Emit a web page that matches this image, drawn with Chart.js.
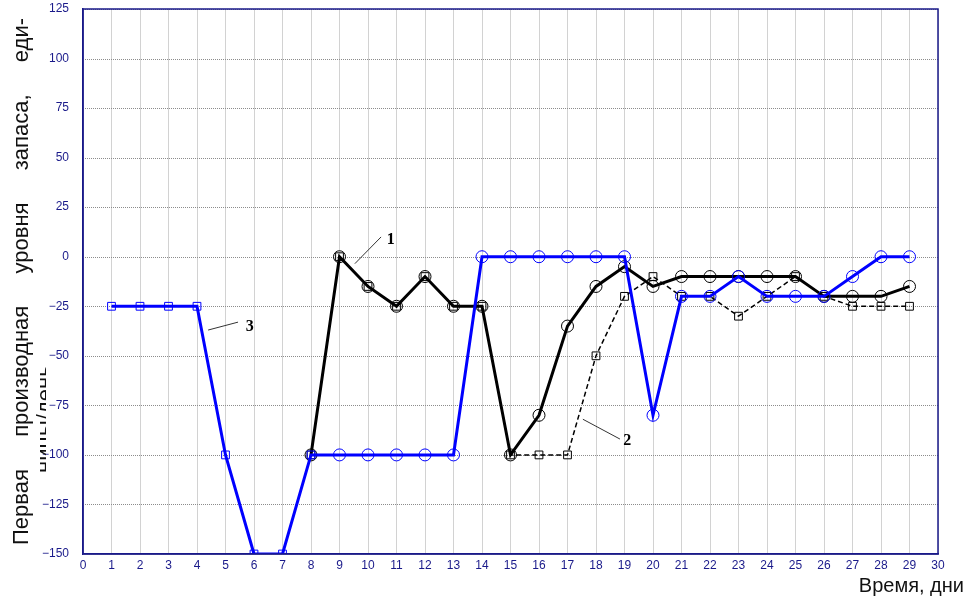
<!DOCTYPE html>
<html>
<head>
<meta charset="utf-8">
<script src="https://cdn.jsdelivr.net/npm/chart.js@4/dist/chart.umd.min.js"></script>
<style>
  html, body { margin: 0; padding: 0; background: #fff; }
  #wrap { width: 971px; height: 600px; }
</style>
</head>
<body>
<div id="wrap"><canvas id="myChart" width="971" height="600"></canvas></div>
<script>
// days 1..29
const days = [1,2,3,4,5,6,7,8,9,10,11,12,13,14,15,16,17,18,19,20,21,22,23,24,25,26,27,28,29];

// curve 3 (blue)
const curve3 = [-25,-25,-25,-25,-100,-150,-150,-100,-100,-100,-100,-100,-100,0,0,0,0,0,0,-80,-20,-20,-10,-20,-20,-20,-10,0,0];
// curve 1 (black solid), starts on day 8
const curve1 = [null,null,null,null,null,null,null,-100,0,-15,-25,-10,-25,-25,-100,-80,-35,-15,-5,-15,-10,-10,-10,-10,-10,-20,-20,-20,-15];
// curve 2 (black dashed), same as curve 1 until day 14
const curve2 = [null,null,null,null,null,null,null,-100,0,-15,-25,-10,-25,-25,-100,-100,-100,-50,-20,-10,-20,-20,-30,-20,-10,-20,-25,-25,-25];

const yTicks = [-150,-125,-100,-75,-50,-25,0,25,50,75,100,125];
const xTicks = [0,1,2,3,4,5,6,7,8,9,10,11,12,13,14,15,16,17,18,19,20,21,22,23,24,25,26,27,28,29,30];

const yTitle = ['Первая', 'производная', 'уровня', 'запаса,', 'еди-'];
const yTitle2 = 'ницы/день';
const xTitle = 'Время, дни';

// curve numbers with leader lines, in data units: [label, x1, y1, x2, y2, labelX, labelY]
const callouts = [
  ['1', 9.54, -3.5, 10.46, 10, 10.8, 8.5],
  ['2', 17.54, -82, 18.84, -92, 19.1, -93],
  ['3', 4.39, -37, 5.44, -33, 5.85, -35.3],
];

const toPoints = arr => days.map((d, i) => ({ x: d, y: arr[i] })).filter(p => p.y !== null);

const navy = '#1a1a8a';

const extras = {
  id: 'extras',
  beforeDatasetsDraw(c) {
    // dotted horizontal grid
    const ctx = c.ctx;
    const a = c.chartArea;
    const ys = c.scales.y;
    ctx.save();
    ctx.strokeStyle = '#8c8c8c';
    ctx.lineWidth = 1;
    ctx.setLineDash([1, 1]);
    yTicks.forEach(v => {
      const y = Math.round(ys.getPixelForValue(v)) + 0.5;
      ctx.beginPath();
      ctx.moveTo(a.left, y);
      ctx.lineTo(a.right, y);
      ctx.stroke();
    });
    ctx.restore();
  },
  afterDraw(c) {
    const ctx = c.ctx;
    const a = c.chartArea;
    const xs = c.scales.x, ys = c.scales.y;
    ctx.save();
    // frame
    ctx.strokeStyle = navy;
    ctx.lineWidth = 1.5;
    ctx.strokeRect(a.left, a.top, a.right - a.left, a.bottom - a.top);

    // callouts
    ctx.strokeStyle = '#333';
    ctx.lineWidth = 1;
    ctx.fillStyle = '#000';
    ctx.font = 'bold 16px "Liberation Serif", "DejaVu Serif", serif';
    ctx.textAlign = 'center';
    ctx.textBaseline = 'middle';
    callouts.forEach(([t, x1, y1, x2, y2, lx, ly]) => {
      ctx.beginPath();
      ctx.moveTo(xs.getPixelForValue(x1), ys.getPixelForValue(y1));
      ctx.lineTo(xs.getPixelForValue(x2), ys.getPixelForValue(y2));
      ctx.stroke();
      ctx.fillText(t, xs.getPixelForValue(lx), ys.getPixelForValue(ly));
    });

    // x title
    ctx.fillStyle = '#111';
    ctx.font = '20px "Liberation Sans", Arial, sans-serif';
    ctx.textAlign = 'right';
    ctx.textBaseline = 'alphabetic';
    ctx.fillText(xTitle, 964, 592);

    // y title, justified line
    ctx.font = '22px "Liberation Sans", Arial, sans-serif';
    ctx.save();
    ctx.translate(28, 545);
    ctx.rotate(-Math.PI / 2);
    ctx.textAlign = 'left';
    const total = 527;
    const widths = yTitle.map(w => ctx.measureText(w).width);
    const gap = (total - widths.reduce((s, w) => s + w, 0)) / (yTitle.length - 1);
    let u = 0;
    yTitle.forEach((w, i) => {
      ctx.fillText(w, u, 0);
      u += widths[i] + gap;
    });
    ctx.restore();

    // second line, partly hidden
    ctx.save();
    ctx.beginPath();
    ctx.rect(0, 0, 46, 600);
    ctx.clip();
    ctx.translate(52, 473);
    ctx.rotate(-Math.PI / 2);
    ctx.textAlign = 'left';
    ctx.fillText(yTitle2, 0, 0);
    ctx.restore();

    ctx.restore();
  }
};

const ctx = document.getElementById('myChart').getContext('2d');
new Chart(ctx, {
  type: 'line',
  data: {
    datasets: [
      {
        label: '3',
        data: toPoints(curve3),
        borderColor: '#0000ff',
        borderWidth: 3,
        pointStyle: days.map(d => d <= 8 ? 'rect' : 'circle'),
        pointRadius: days.map(d => d <= 8 ? 5.5 : 6),
        pointBorderColor: '#0000ff',
        pointBorderWidth: 1,
        pointBackgroundColor: 'rgba(0,0,0,0)',
        tension: 0,
      },
      {
        label: '1',
        data: toPoints(curve1),
        borderColor: '#000',
        borderWidth: 3,
        pointStyle: 'circle',
        pointRadius: 6,
        pointBorderColor: '#000',
        pointBorderWidth: 1,
        pointBackgroundColor: 'rgba(0,0,0,0)',
        tension: 0,
      },
      {
        label: '2',
        data: toPoints(curve2),
        borderColor: '#000',
        borderWidth: 1.5,
        borderDash: [5, 3],
        pointStyle: 'rect',
        pointRadius: 5.5,
        pointBorderColor: '#000',
        pointBorderWidth: 1,
        pointBackgroundColor: 'rgba(0,0,0,0)',
        tension: 0,
      },
    ]
  },
  options: {
    responsive: false,
    animation: false,
    layout: { padding: { top: 9, right: 33, left: 0, bottom: 0 } },
    plugins: { legend: { display: false }, tooltip: { enabled: false } },
    scales: {
      x: {
        type: 'linear',
        min: 0,
        max: 30,
        afterFit: s => { s.height = 46; s.paddingLeft = 0; s.paddingRight = 0; },
        afterBuildTicks: s => { s.ticks = xTicks.map(v => ({ value: v })); },
        ticks: { color: navy, font: { family: '"Liberation Sans", Tahoma, sans-serif', size: 12 }, padding: 4, maxRotation: 0, autoSkip: false },
        grid: { color: '#d2d2d2', lineWidth: 1, drawTicks: false },
        border: { color: navy, width: 1.5 },
      },
      y: {
        min: -150,
        max: 125,
        afterFit: s => { s.width = 83; s.paddingTop = 0; s.paddingBottom = 0; },
        afterBuildTicks: s => { s.ticks = yTicks.map(v => ({ value: v })); },
        ticks: {
          color: navy,
          font: { family: '"Liberation Sans", Tahoma, sans-serif', size: 12 },
          padding: 6,
          callback: v => String(v).replace('-', '\u2212'),
        },
        grid: { display: false },
        border: { color: navy, width: 1.5 },
      }
    }
  },
  plugins: [extras]
});
</script>
</body>
</html>
